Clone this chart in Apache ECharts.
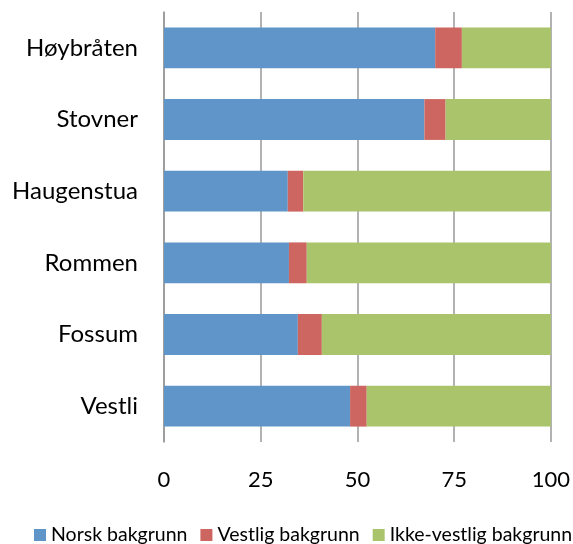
<!DOCTYPE html>
<html lang="no" style="height: 100%">
<head>
    <meta charset="UTF-8">
    <title>Bakgrunn per område</title>
    <script src="https://cdn.jsdelivr.net/npm/echarts@6/dist/echarts.min.js"></script>
</head>
<body style="height: 100%; margin: 0">
<div id="main" style="width: 573px; height: 544px"></div>
<script>
    // kategorier ovenfra og ned
    var omrader = ['Høybråten', 'Stovner', 'Haugenstua', 'Rommen', 'Fossum', 'Vestli'];
    var norsk = [70.1, 67.3, 32.0, 32.3, 34.6, 48.1];
    var vestlig = [6.9, 5.5, 4.0, 4.6, 6.2, 4.3];
    var ikkeVestlig = [23.0, 27.2, 64.0, 63.1, 59.2, 47.6];
    var xTicks = [0, 25, 50, 75, 100];

    var font = 'Lato, "Open Sans", sans-serif';

    function serie(navn, data, farge) {
        return {
            name: navn,
            type: 'bar',
            stack: 'total',
            barCategoryGap: '43%',
            itemStyle: { color: farge },
            data: data.slice().reverse()
        };
    }

    var myChart = echarts.init(document.getElementById('main'));
    myChart.setOption({
        animation: false,
        textStyle: { fontFamily: font },
        grid: { left: 164, right: 22, top: 12, bottom: 102 },
        legend: {
            top: 523,
            left: 34,
            padding: 0,
            itemWidth: 12,
            itemHeight: 12,
            itemGap: 13,
            icon: 'rect',
            textStyle: { fontSize: 19.5, lineHeight: 24, color: '#000', fontFamily: font },
            data: ['Norsk bakgrunn', 'Vestlig bakgrunn', 'Ikke-vestlig bakgrunn']
        },
        xAxis: {
            type: 'value',
            min: xTicks[0],
            max: xTicks[xTicks.length - 1],
            interval: 25,
            axisLine: { show: false },
            axisTick: { show: false },
            axisLabel: { fontSize: 22, color: '#000', margin: 27 },
            splitLine: { lineStyle: { color: '#999', width: 1.5 } }
        },
        yAxis: {
            type: 'category',
            data: omrader.slice().reverse(),
            axisLine: { lineStyle: { color: '#999', width: 1.5 } },
            axisTick: { show: false },
            axisLabel: { fontSize: 24, color: '#000', margin: 26 }
        },
        series: [
            serie('Norsk bakgrunn', norsk, '#5f95c8'),
            serie('Vestlig bakgrunn', vestlig, '#cd6660'),
            serie('Ikke-vestlig bakgrunn', ikkeVestlig, '#aac46c')
        ]
    });
</script>
</body>
</html>
